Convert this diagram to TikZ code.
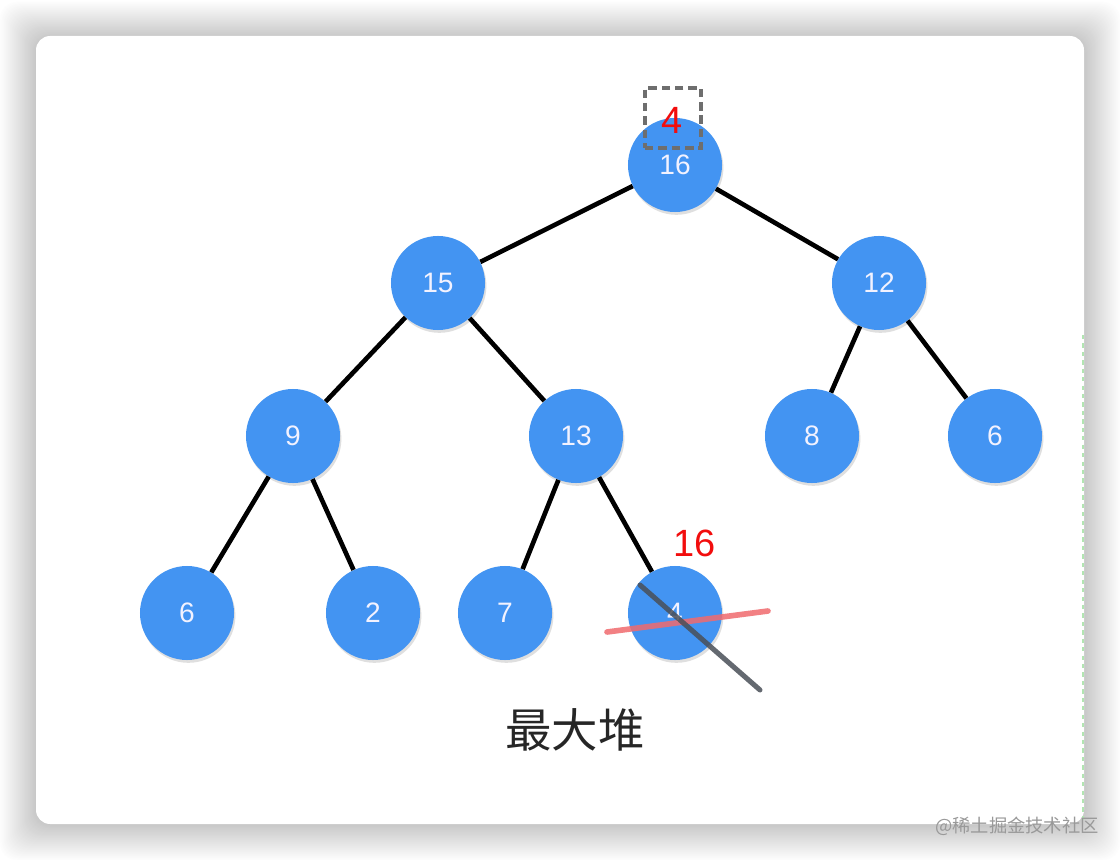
\documentclass[tikz,border=0pt]{standalone}
\usepackage{fontspec}
\setmainfont{Liberation Sans}
\newfontfamily\cjk{Noto Sans CJK SC}
\usetikzlibrary{shadows}
\definecolor{heapblue}{HTML}{4394F2}
\definecolor{markred}{HTML}{F20D0D}
\definecolor{strikered}{HTML}{F06A6E}
\definecolor{strikegray}{HTML}{4A4F57}
\definecolor{boxgray}{HTML}{6E6E6E}

\begin{document}
\begin{tikzpicture}[
    x=0.025cm, y=-0.025cm,
    heapnode/.style={circle, fill=heapblue, minimum size=2.35cm, inner sep=0pt, text=blue!5, font=\fontsize{20}{20}\selectfont, drop shadow={opacity=0.25, shadow xshift=1pt, shadow yshift=-2pt}},
    edge/.style={line width=3.3pt, black},
    marktext/.style={text=markred, font=\fontsize{27}{27}\selectfont}
]
    \useasboundingbox (0,0) rectangle (1120,860);
    % card with soft shadow
    \fill[white] (0,0) rectangle (1120,860);
    \foreach \i in {36,35,...,1}{
        \pgfmathsetmacro{\shade}{22*(1-\i/37)}
        \fill[black!\shade!white, rounded corners=12] (36-\i,36-\i+2) rectangle (1084+\i,824+\i);
    }
    \fill[white, rounded corners=10] (36,36) rectangle (1084,824);
    \draw[green!50!gray!40, line width=0.8pt, dashed] (1083,335) -- (1083,820);

    % Level 0
    \node[heapnode] (n16) at (675,165) {16};
    % Level 1
    \node[heapnode] (n15) at (438,283) {15};
    \node[heapnode] (n12) at (879,283) {12};
    % Level 2
    \node[heapnode] (n9) at (293,436) {9};
    \node[heapnode] (n13) at (576,436) {13};
    \node[heapnode] (n8) at (812,436) {8};
    \node[heapnode] (n6a) at (995,436) {6};
    % Level 3
    \node[heapnode] (n6b) at (187,613) {6};
    \node[heapnode] (n2) at (373,613) {2};
    \node[heapnode] (n7) at (505,613) {7};
    \node[heapnode] (n4) at (675,613) {4};

    % Edges
    \draw[edge] (n16) -- (n15);
    \draw[edge] (n16) -- (n12);
    \draw[edge] (n15) -- (n9);
    \draw[edge] (n15) -- (n13);
    \draw[edge] (n12) -- (n8);
    \draw[edge] (n12) -- (n6a);
    \draw[edge] (n9) -- (n6b);
    \draw[edge] (n9) -- (n2);
    \draw[edge] (n13) -- (n7);
    \draw[edge] (n13) -- (n4);

    % Swap marks
    \node[draw=boxgray, dash pattern=on 6pt off 3.5pt, line width=2.3pt, minimum width=1.4cm, minimum height=1.5cm, inner sep=0pt] (swapbox) at (673,118) {};
    \node[marktext] (newtop) at (672,120) {4};
    \node[marktext] (newleaf) at (695,543) {16};
    \coordinate (redA) at (607,632);
    \coordinate (redB) at (768,611);
    \coordinate (grayA) at (640,585);
    \coordinate (grayB) at (760,690);
    \draw[strikered, line width=4pt, line cap=round, opacity=0.85] (redA) -- (redB);
    \draw[strikegray, line width=3.6pt, line cap=round, opacity=0.85] (grayA) -- (grayB);

    % Caption
    \node[text=black!85, font=\cjk\fontsize{33}{33}\selectfont] (title) at (575,730) {最大堆};
    \node[text=black!40, font=\cjk\fontsize{13}{13}\selectfont] (mark) at (1017,826) {@稀土掘金技术社区};
\end{tikzpicture}
\end{document}
